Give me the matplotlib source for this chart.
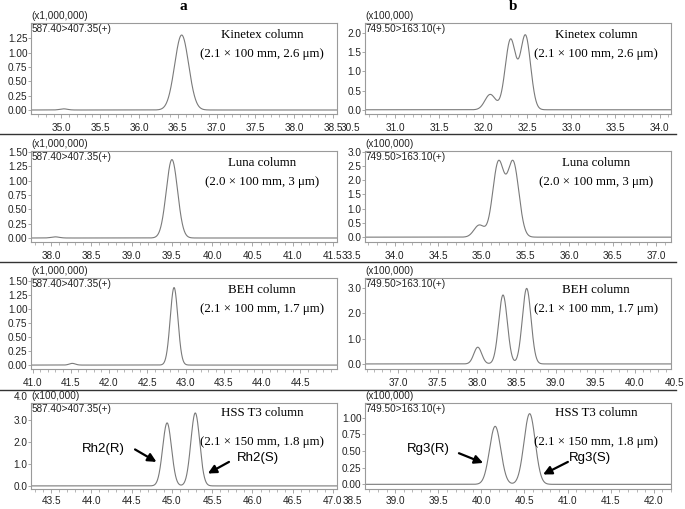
import numpy as np
import matplotlib
matplotlib.use("Agg")
import matplotlib.pyplot as plt
from matplotlib.ticker import MultipleLocator, FixedLocator, FormatStrFormatter

W, H = 685, 509
SANS = ["Liberation Sans", "DejaVu Sans"]
SERIF = ["Liberation Serif", "DejaVu Serif"]

# ---------------- data ----------------
col_titles = ["a", "b"]
column_names = ["Kinetex column", "Luna column", "BEH column", "HSS T3 column"]
column_specs = ["(2.1 \u00d7 100 mm, 2.6 \u03bcm)", "(2.0 \u00d7 100 mm, 3 \u03bcm)",
                "(2.1 \u00d7 100 mm, 1.7 \u03bcm)", "(2.1 \u00d7 150 mm, 1.8 \u03bcm)"]
transition_a = "587.40>407.35(+)"
transition_b = "749.50>163.10(+)"
scale_a = ["(x1,000,000)", "(x1,000,000)", "(x1,000,000)", "(x100,000)"]
scale_b = ["(x100,000)", "(x100,000)", "(x100,000)", "(x100,000)"]
labels_a = ["Rh2(R)", "Rh2(S)"]
labels_b = ["Rg3(R)", "Rg3(S)"]

# peak tables: retention time (min), height (scaled units), width (sigma, min)
kinetex_rh2_rt = [35.03, 36.55]
kinetex_rh2_h = [0.02, 1.31]
kinetex_rh2_w = [0.05, 0.09]
luna_rh2_rt = [38.05, 39.50]
luna_rh2_h = [0.02, 1.37]
luna_rh2_w = [0.05, 0.07]
beh_rh2_rt = [41.52, 42.85]
beh_rh2_h = [0.03, 1.38]
beh_rh2_w = [0.04, 0.05]
hss_rh2_rt = [44.94, 45.29]
hss_rh2_h = [2.85, 3.3]
hss_rh2_w = [0.055, 0.055]

kinetex_rg3_rt = [32.08, 32.31, 32.48]
kinetex_rg3_h = [0.40, 1.82, 1.92]
kinetex_rg3_w = [0.06, 0.06, 0.058]
luna_rg3_rt = [34.97, 35.19, 35.36]
luna_rg3_h = [0.42, 2.6, 2.6]
luna_rg3_w = [0.06, 0.065, 0.065]
beh_rg3_rt = [38.01, 38.33, 38.63]
beh_rg3_h = [0.66, 2.72, 2.98]
beh_rg3_w = [0.05, 0.055, 0.055]
hss_rg3_rt = [40.16, 40.56]
hss_rg3_h = [0.87, 1.06]
hss_rg3_w = [0.065, 0.065]

# axis ranges / ticks
xlim_a = [(34.61, 38.55), (37.75, 41.55), (40.98, 44.98), (43.25, 47.05)]
xticks_a = [(35.0, 38.5), (38.0, 41.5), (41.0, 44.5), (43.5, 47.0)]
ylim_a = [(-0.07, 1.52), (-0.07, 1.52), (-0.07, 1.55), (-0.14, 3.75)]
yticks_a = [(0.0, 1.25, 0.25), (0.0, 1.5, 0.25), (0.0, 1.5, 0.25), (0.0, 3.0, 1.0)]
yfmt_a = ["%.2f", "%.2f", "%.2f", "%.1f"]
extra_x_a = [[], [], [], []]
extra_y_a = [[], [], [], [4.0]]

xlim_b = [(30.66, 34.13), (33.66, 37.17), (36.58, 40.46), (38.65, 42.2)]
xticks_b = [(30.5, 34.0), (33.5, 37.0), (37.0, 40.5), (38.5, 42.0)]
ylim_b = [(-0.11, 2.26), (-0.17, 3.02), (-0.2, 3.39), (-0.07, 1.22)]
yticks_b = [(0.0, 2.0, 0.5), (0.0, 3.0, 0.5), (0.0, 3.0, 1.0), (0.0, 1.0, 0.25)]
yfmt_b = ["%.1f", "%.1f", "%.1f", "%.2f"]
extra_x_b = [[30.5], [33.5], [40.5], [38.5]]
extra_y_b = [[], [], [], []]

peaks_a = [(kinetex_rh2_rt, kinetex_rh2_h, kinetex_rh2_w),
           (luna_rh2_rt, luna_rh2_h, luna_rh2_w),
           (beh_rh2_rt, beh_rh2_h, beh_rh2_w),
           (hss_rh2_rt, hss_rh2_h, hss_rh2_w)]
peaks_b = [(kinetex_rg3_rt, kinetex_rg3_h, kinetex_rg3_w),
           (luna_rg3_rt, luna_rg3_h, luna_rg3_w),
           (beh_rg3_rt, beh_rg3_h, beh_rg3_w),
           (hss_rg3_rt, hss_rg3_h, hss_rg3_w)]

# ---------------- layout (pixels) ----------------
col_x = [(31, 337), (365, 671)]
row_y = [(23, 114), (151, 242), (278, 369), (403, 489)]
row_xpad = [3.2, 3.2, 3.2, 1.8]
sep_y = [134, 262, 390]

fig = plt.figure(figsize=(W / 100, H / 100), dpi=100)


def fx(px):
    return px / W


def fy(py):
    return 1 - py / H


def trace(xmin, xmax, rts, hs, ws):
    x = np.linspace(xmin, xmax, 3000)
    y = np.zeros_like(x)
    for rt, h, w in zip(rts, hs, ws):
        y += h * np.exp(-0.5 * ((x - rt) / w) ** 2)
    return x, y


SPINE = "#9a9a9a"
LINE = "#7a7a7a"
TXT = "#222222"
FS = 7.2
FS_DESC = 9.3
XLEN, YPAD, YLEN = 3, 0.5, 2

axes = {}
for c in range(2):
    for r in range(4):
        x0, x1 = col_x[c]
        y0, y1 = row_y[r]
        XPAD = row_xpad[r]
        ax = fig.add_axes([fx(x0), fy(y1), fx(x1 - x0), (y1 - y0) / H])
        axes[(c, r)] = ax
        if c == 0:
            xl, xt, yl, yt, yf = xlim_a[r], xticks_a[r], ylim_a[r], yticks_a[r], yfmt_a[r]
            rts, hs, ws = peaks_a[r]
            ex, ey = extra_x_a[r], extra_y_a[r]
        else:
            xl, xt, yl, yt, yf = xlim_b[r], xticks_b[r], ylim_b[r], yticks_b[r], yfmt_b[r]
            rts, hs, ws = peaks_b[r]
            ex, ey = extra_x_b[r], extra_y_b[r]
        x, y = trace(xl[0], xl[1], rts, hs, ws)
        ax.plot(x, y, color=LINE, lw=0.8)
        ax.set_xlim(*xl)
        ax.set_ylim(*yl)
        ax.xaxis.set_major_locator(FixedLocator(np.arange(xt[0], xt[1] + 0.01, 0.5)))
        ax.xaxis.set_minor_locator(MultipleLocator(0.1))
        ax.xaxis.set_major_formatter(FormatStrFormatter("%.1f"))
        ax.yaxis.set_major_locator(FixedLocator(np.arange(yt[0], yt[1] + 1e-6, yt[2])))
        ax.yaxis.set_major_formatter(FormatStrFormatter(yf))
        for s in ax.spines.values():
            s.set_color(SPINE)
            s.set_linewidth(0.8)
        ax.tick_params(axis="x", which="major", length=XLEN, width=0.6, color=SPINE,
                       pad=XPAD, labelsize=FS, labelcolor=TXT)
        ax.tick_params(axis="x", which="minor", length=1.8, width=0.5, color=SPINE)
        ax.tick_params(axis="y", which="major", length=YLEN, width=0.6, color=SPINE,
                       pad=YPAD, labelsize=FS, labelcolor=TXT)
        for lab in ax.get_xticklabels() + ax.get_yticklabels():
            lab.set_fontfamily(SANS)
        # tick labels the instrument software prints just outside the frame
        for v in ex:
            ax.annotate("%.1f" % v, xy=(v, 0), xycoords=("data", "axes fraction"),
                        xytext=(0, -(XLEN + XPAD)), textcoords="offset points",
                        ha="center", va="top", fontsize=FS, family=SANS, color=TXT,
                        annotation_clip=False)
        for v in ey:
            ax.annotate(yf % v, xy=(0, v), xycoords=("axes fraction", "data"),
                        xytext=(-(YLEN + YPAD), 0), textcoords="offset points",
                        ha="right", va="center", fontsize=FS, family=SANS, color=TXT,
                        annotation_clip=False)
        # transition label inside, scale label above
        ax.text(0.003, 0.985, transition_a if c == 0 else transition_b,
                transform=ax.transAxes, ha="left", va="top", fontsize=FS,
                family=SANS, color=TXT)
        fig.text(fx(x0), fy(y0 - 7), scale_a[r] if c == 0 else scale_b[r],
                 ha="left", va="center", fontsize=FS, family=SANS, color=TXT)
        # column description
        cx = x0 + 0.755 * (x1 - x0)
        if r < 3:
            l1, l2 = y0 + 12, y0 + 31
        else:
            l1, l2 = y0 + 10, y0 + 39
        fig.text(fx(cx), fy(l1), column_names[r], ha="center", va="center",
                 fontsize=FS_DESC, family=SERIF)
        fig.text(fx(cx), fy(l2), column_specs[r], ha="center", va="center",
                 fontsize=FS_DESC, family=SERIF)

# column titles
fig.text(fx(183), fy(7), col_titles[0], ha="center", va="center", fontsize=11,
         family=SERIF, fontweight="bold")
fig.text(fx(513), fy(7), col_titles[1], ha="center", va="center", fontsize=11,
         family=SERIF, fontweight="bold")

# separators
for sy in sep_y:
    fig.add_artist(plt.Line2D([0, fx(676)], [fy(sy), fy(sy)], color="#333333", lw=1.0))

# enantiomer annotations on bottom row
arrow_kw = dict(arrowstyle="-|>,head_length=0.5,head_width=0.25", color="black", lw=1.6,
                shrinkA=0, shrinkB=0)
ax = axes[(0, 3)]
ax.annotate("", xy=(0.41, 0.315), xytext=(0.34, 0.46), xycoords="axes fraction",
            arrowprops=arrow_kw)
ax.annotate("", xy=(0.578, 0.18), xytext=(0.647, 0.315), xycoords="axes fraction",
            arrowprops=arrow_kw)
ax.text(0.235, 0.47, labels_a[0], transform=ax.transAxes, ha="center", va="center",
        fontsize=9.5, family=SANS)
ax.text(0.742, 0.36, labels_a[1], transform=ax.transAxes, ha="center", va="center",
        fontsize=9.5, family=SANS)
ax = axes[(1, 3)]
ax.annotate("", xy=(0.386, 0.303), xytext=(0.307, 0.416), xycoords="axes fraction",
            arrowprops=arrow_kw)
ax.annotate("", xy=(0.582, 0.169), xytext=(0.663, 0.315), xycoords="axes fraction",
            arrowprops=arrow_kw)
ax.text(0.206, 0.47, labels_b[0], transform=ax.transAxes, ha="center", va="center",
        fontsize=9.5, family=SANS)
ax.text(0.735, 0.36, labels_b[1], transform=ax.transAxes, ha="center", va="center",
        fontsize=9.5, family=SANS)

fig.savefig("out.png", dpi=100)
